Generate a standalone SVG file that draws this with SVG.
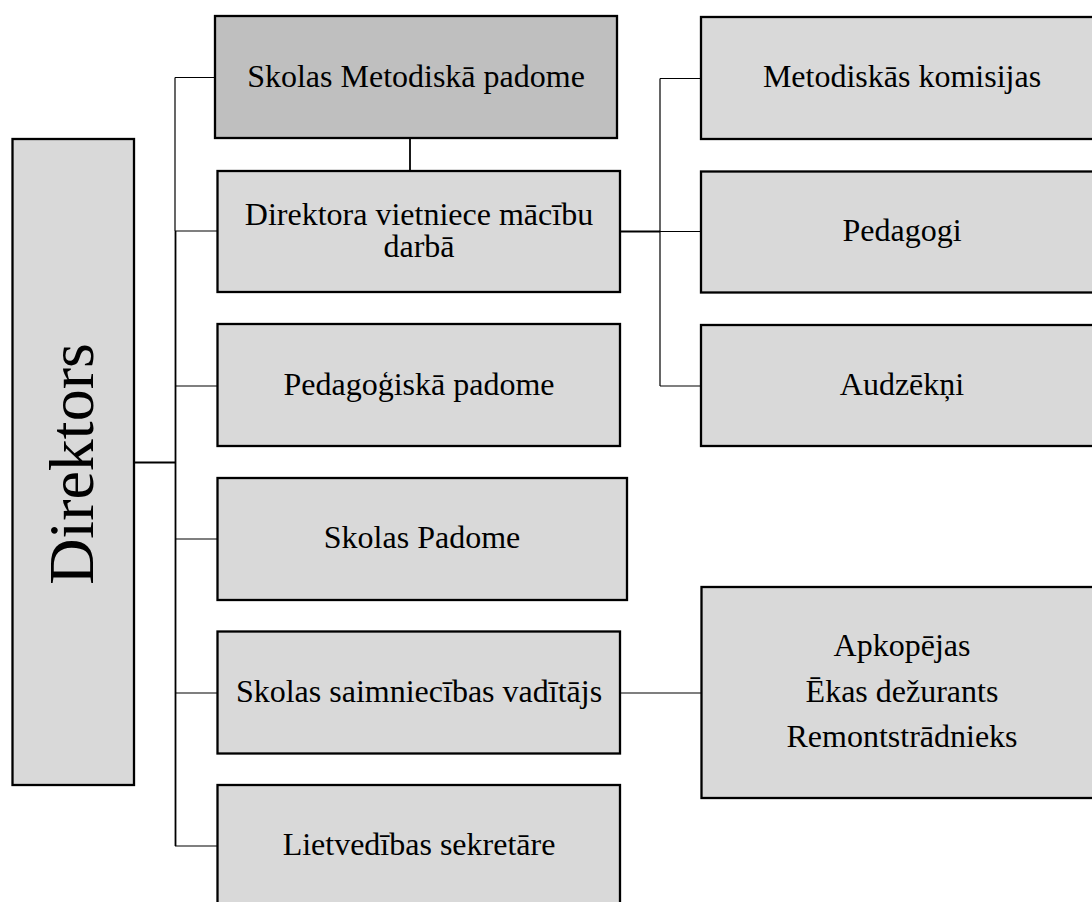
<svg xmlns="http://www.w3.org/2000/svg" width="1092" height="902" viewBox="0 0 1092 902">
<style>
.box{fill:#d9d9d9;stroke:#000;stroke-width:2.3}
.dark{fill:#bfbfbf}
.t{font-family:"Liberation Serif","Times New Roman",serif;font-size:32px;fill:#000;text-anchor:middle}
.big{font-size:64px}
.c{fill:none;stroke:#000;stroke-width:1.2}
.ct{fill:none;stroke:#000;stroke-width:1.8}
</style>
<rect width="1092" height="902" fill="#fff"/>
<g id="connectors">
<path class="ct" d="M134 462.5H175.5"/>
<path class="c" d="M175 77.5V231"/>
<path class="ct" d="M175.5 231V846"/>
<path class="c" d="M175 77.5H215M175 231H217M175 386H217M175 539H217M175 693H217M175 846H217"/>
<path class="ct" d="M410 138V171"/>
<path class="ct" d="M621 231.5H660"/>
<path class="c" d="M660 231.5H701M660 78.5V386M660 78.5H701M660 386H701"/>
<path class="c" d="M621 693H701"/>
</g>
<g id="direktors">
<rect class="box" x="12.5" y="139" width="121.5" height="646"/>
<text class="t big" transform="translate(93 464) rotate(-90)">Direktors</text>
</g>
<g id="metodiska-padome">
<rect class="box dark" x="215" y="16" width="402" height="122"/>
<text class="t" x="416" y="87">Skolas Metodiskā padome</text>
</g>
<g id="vietniece">
<rect class="box" x="217.5" y="171" width="402.5" height="121"/>
<text class="t" x="419" y="225">Direktora vietniece mācību</text>
<text class="t" x="419" y="257">darbā</text>
</g>
<g id="pedagogiska-padome">
<rect class="box" x="217.5" y="324" width="402.5" height="122"/>
<text class="t" x="419" y="395">Pedagoģiskā padome</text>
</g>
<g id="skolas-padome">
<rect class="box" x="217.5" y="478" width="409.5" height="122"/>
<text class="t" x="422" y="548">Skolas Padome</text>
</g>
<g id="saimniecibas">
<rect class="box" x="217.5" y="631.5" width="402.5" height="122"/>
<text class="t" x="419" y="702">Skolas saimniecības vadītājs</text>
</g>
<g id="lietvedibas">
<rect class="box" x="217.5" y="785" width="402.5" height="130"/>
<text class="t" x="419" y="855">Lietvedības sekretāre</text>
</g>
<g id="komisijas">
<rect class="box" x="701" y="17" width="420" height="122"/>
<text class="t" x="902" y="87">Metodiskās komisijas</text>
</g>
<g id="pedagogi">
<rect class="box" x="701" y="171.5" width="420" height="121"/>
<text class="t" x="902" y="241">Pedagogi</text>
</g>
<g id="audzekni">
<rect class="box" x="701" y="325" width="420" height="121"/>
<text class="t" x="902" y="395">Audzēkņi</text>
</g>
<g id="tehniskie">
<rect class="box" x="701.5" y="587" width="420" height="211"/>
<text class="t" x="902" y="656">Apkopējas</text>
<text class="t" x="902" y="702">Ēkas dežurants</text>
<text class="t" x="902" y="747">Remontstrādnieks</text>
</g>
</svg>
